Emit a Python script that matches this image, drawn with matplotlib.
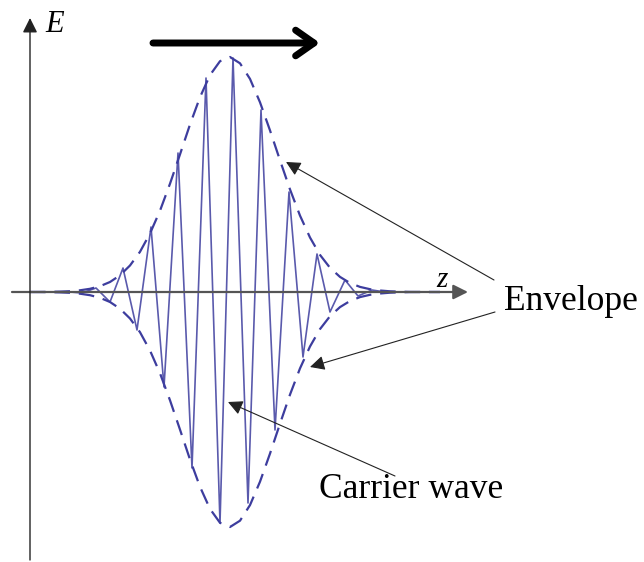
import matplotlib
matplotlib.use('Agg')
import matplotlib.pyplot as plt

# carrier wave vertices (z, E)
carrier_z = [28, 70, 82, 96, 110, 123, 137, 151, 164, 178, 192, 206, 220, 233,
             248, 261, 275, 289, 303, 317, 330, 345, 358, 372, 385, 427]
carrier_e = [0, 0, -1, 4, -10, 24, -38, 65, -95, 139, -176, 214, -231, 234,
             -211, 182, -138, 100, -65, 38, -20, 12, -4, 2, 0, 0]

# envelope samples (z, |E|), every 10 units from z = 30
env_z = list(range(30, 450, 10))
env_e = [0, 0.1, 0.2, 0.4, 0.8, 1.7, 3.2, 5.8, 10.0, 16.7, 26.5, 40.2, 58.5,
         81.3, 108.3, 137.6, 167.5, 194.8, 216.9, 230.8, 235, 228.7, 213.1,
         189.7, 161.6, 131.7, 102.6, 76.4, 54.5, 37.1, 24.2, 15.1, 9.0, 5.1,
         2.8, 1.5, 0.7, 0.35, 0.1, 0, 0, 0]

BLUE = '#3d3d9e'
SERIF = ['Liberation Serif', 'DejaVu Serif']

fig = plt.figure(figsize=(6.44, 5.62), dpi=100)
ax = fig.add_axes([0, 0, 1, 1])
ax.set_xlim(0, 644)
ax.set_ylim(-270, 292)
ax.axis('off')

# axes with arrows
ax.annotate('', xy=(468, 0), xytext=(12, 0),
            arrowprops=dict(arrowstyle='-|>', color='#555555', lw=1.6,
                            mutation_scale=22, shrinkA=0, shrinkB=0))
ax.annotate('', xy=(30, 274), xytext=(30, -268),
            arrowprops=dict(arrowstyle='-|>', color='#222222', lw=1.0,
                            mutation_scale=22, shrinkA=0, shrinkB=0))

ax.plot(carrier_z, carrier_e, color=BLUE, lw=1.2, alpha=0.85)
ax.plot(env_z, env_e, color=BLUE, lw=1.6, dashes=(7, 4))
ax.plot(env_z, [-v for v in env_e], color=BLUE, lw=1.6, dashes=(7, 4))

# direction of travel
ax.annotate('', xy=(320, 249), xytext=(153, 249),
            arrowprops=dict(arrowstyle='->,head_length=0.6,head_width=0.42',
                            color='black', lw=5, mutation_scale=22,
                            shrinkA=0, shrinkB=0))

ax.text(45, 268, 'E', fontsize=22, style='italic', family=SERIF,
        ha='left', va='center')
ax.text(436, 12, 'z', fontsize=21, style='italic', family=SERIF,
        ha='left', va='center')
ax.text(504, -10, 'Envelope', fontsize=25.5, family=SERIF,
        ha='left', va='center')
ax.text(319, -198, 'Carrier wave', fontsize=25.5, family=SERIF,
        ha='left', va='center')

ann = dict(arrowstyle='-|>', color='#222222', lw=0.8, mutation_scale=22,
           shrinkA=0, shrinkB=0)
ax.annotate('', xy=(286, 130), xytext=(494, 12), arrowprops=ann)
ax.annotate('', xy=(310, -75), xytext=(495, -20), arrowprops=ann)
ax.annotate('', xy=(228, -110), xytext=(395, -184), arrowprops=ann)

fig.savefig('out.png', dpi=100)
